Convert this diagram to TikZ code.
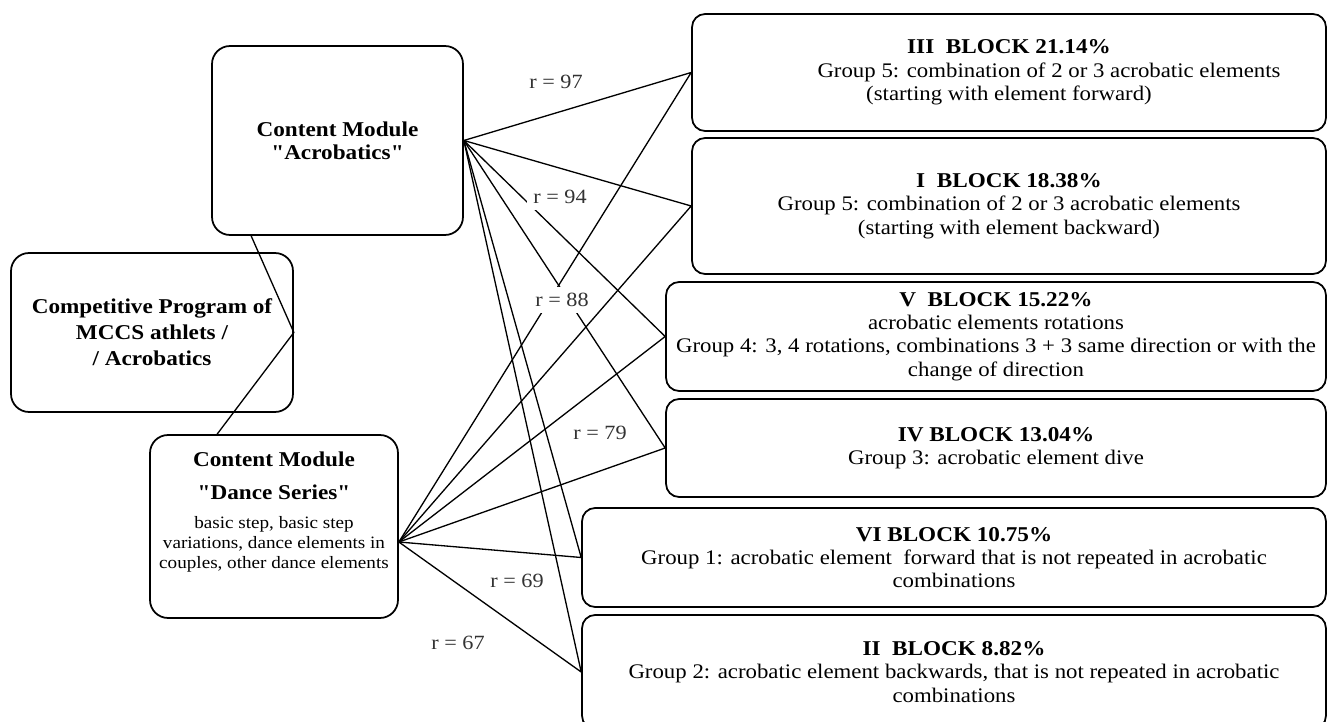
\documentclass[tikz,border=0pt]{standalone}
\usepackage{fontspec}
\setmainfont[FakeStretch=1.1, Ligatures=TeXOff]{Liberation Serif}
\usetikzlibrary{calc}

\tikzset{
  leftbox/.style={draw, line width=1pt, rounded corners=0.36cm, align=center, inner sep=0pt,
    font=\fontsize{12}{13.1}\selectfont\bfseries},
  blockbox/.style={draw, line width=1pt, rounded corners=0.26cm, align=center, inner sep=0pt,
    font=\fontsize{11.8}{13.3}\selectfont},
  link/.style={line width=0.75pt},
  rlabel/.style={fill=white, inner sep=3.5pt, text=black!80, font=\fontsize{11.5}{13}\selectfont},
}
\newcommand{\blocktitle}[1]{{\fontsize{12}{13.3}\selectfont\bfseries #1}}

\begin{document}
\begin{tikzpicture}[x=0.02cm,y=-0.02cm]
\useasboundingbox (0,0) rectangle (1328,722);

% modules on the left
\node[leftbox, minimum width=5.02cm, minimum height=3.78cm] (acro) at (337.5,140.5) {Content Module\\"Acrobatics"};
\node[leftbox, minimum width=5.64cm, minimum height=3.18cm, font=\fontsize{12}{14.8}\selectfont\bfseries] (comp) at (152,332.5) {Competitive Program of\\MCCS athlets /\\/ Acrobatics};
\node[leftbox, minimum width=4.96cm, minimum height=3.66cm] (dance) at (274,526.5) {};
\node[font=\fontsize{12}{18.8}\selectfont\bfseries, align=center] (dancetitle) at (274,475.5) {Content Module\\"Dance Series"};
\node[font=\fontsize{9.9}{11.4}\selectfont, align=center] (dancetext) at (274,544) {basic step, basic step\\variations, dance elements in\\couples, other dance elements};

% blocks on the right
\node[blockbox, minimum width=12.68cm, minimum height=2.34cm] (b3) at (1009,72.5) {\blocktitle{III\ \ BLOCK 21.14\%}\\\hspace*{1.6cm}Group 5: combination of 2 or 3 acrobatic elements\\(starting with element forward)};
\node[blockbox, minimum width=12.68cm, minimum height=2.72cm] (b1) at (1009,206) {\blocktitle{I\ \ BLOCK 18.38\%}\\Group 5: combination of 2 or 3 acrobatic elements\\(starting with element backward)};
\node[blockbox, minimum width=13.2cm, minimum height=2.18cm] (b5) at (996,336.5) {\blocktitle{V\ \ BLOCK 15.22\%}\\acrobatic elements rotations\\Group 4: 3, 4 rotations, combinations 3 + 3 same direction or with the\\change of direction};
\node[blockbox, minimum width=13.2cm, minimum height=1.96cm] (b4) at (996,448) {\blocktitle{IV BLOCK 13.04\%}\\Group 3: acrobatic element dive};
\node[blockbox, minimum width=14.88cm, minimum height=1.98cm] (b6) at (954,557.5) {\blocktitle{VI BLOCK 10.75\%}\\Group 1: acrobatic element\ \ forward that is not repeated in acrobatic\\combinations};
\node[blockbox, minimum width=14.88cm, minimum height=2.28cm] (b2) at (954,672) {\blocktitle{II\ \ BLOCK 8.82\%}\\Group 2: acrobatic element backwards, that is not repeated in acrobatic\\combinations};

% connectors
\coordinate (danceout) at ($(dance.east)+(0,15.5)$);
\coordinate (acroin) at ($(acro.south west)+(40,0)$);
\coordinate (dancein) at ($(dance.north west)+(68,0)$);
\draw[link] (acroin) -- (comp.east) -- (dancein);
\foreach \b in {b3,b1,b5,b4,b6,b2}
  \draw[link] (acro.east) -- (\b.west) (danceout) -- (\b.west);

% correlations
\node[rlabel] (r97) at (556,82) {r = 97};
\node[rlabel] (r94) at (560,197) {r = 94};
\node[rlabel] (r88) at (562,300) {r = 88};
\node[rlabel] (r79) at (600,433) {r = 79};
\node[rlabel] (r69) at (517,581) {r = 69};
\node[rlabel] (r67) at (458,643) {r = 67};
\end{tikzpicture}
\end{document}
